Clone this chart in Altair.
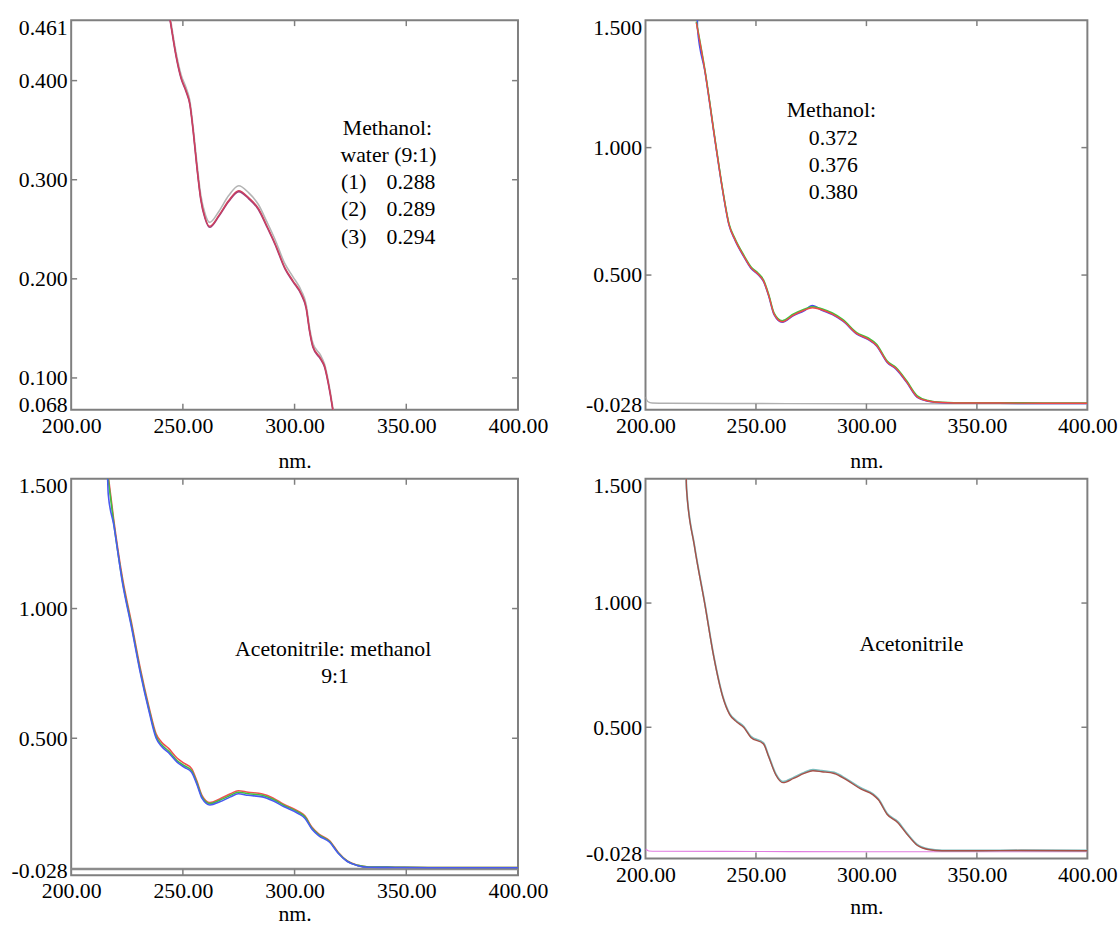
import altair as alt
import pandas as pd

FONT = "Liberation Serif"
FRAME = "#7f7f7f"

# ---------------- shared axis values ----------------
X_TICKS = [200, 250, 300, 350, 400]
X_INNER = [250, 300, 350]

# ---------------- panel 1: methanol : water (9:1) ----------------
P1_NM = [242.0, 244.4, 246.9, 249.2, 251.4, 253.1, 254.6, 256.1, 258.0, 259.9, 262.0, 266.1, 270.5,
         275.0, 279.4, 283.8, 287.5, 291.2, 295.7, 299.3, 303.0, 305.2, 306.7, 308.2, 311.6, 313.4,
         315.1, 317.0, 318.5]
P1_S1 = [0.492, 0.459, 0.425, 0.402, 0.389, 0.376, 0.349, 0.316, 0.280, 0.261, 0.252, 0.263, 0.278,
         0.288, 0.281, 0.270, 0.253, 0.235, 0.210, 0.197, 0.184, 0.170, 0.147, 0.131, 0.119, 0.111,
         0.094, 0.069, 0.045]
P1_S2 = [0.493, 0.460, 0.426, 0.403, 0.390, 0.377, 0.350, 0.317, 0.281, 0.262, 0.253, 0.264, 0.279,
         0.289, 0.282, 0.271, 0.254, 0.236, 0.211, 0.198, 0.185, 0.171, 0.148, 0.132, 0.120, 0.112,
         0.095, 0.070, 0.046]
P1_S3 = [0.496, 0.463, 0.429, 0.406, 0.393, 0.380, 0.353, 0.321, 0.285, 0.266, 0.257, 0.268, 0.284,
         0.294, 0.287, 0.275, 0.258, 0.240, 0.215, 0.202, 0.188, 0.174, 0.151, 0.135, 0.123, 0.114,
         0.097, 0.072, 0.048]
P1_YTICKS = [0.068, 0.1, 0.2, 0.3, 0.4, 0.461]
P1_YINNER = [0.1, 0.2, 0.3, 0.4]
P1_TITLE = ["Methanol:", "water (9:1)"]
P1_RUNS = ["(1)", "(2)", "(3)"]
P1_VALUES = ["0.288", "0.289", "0.294"]

# ---------------- panel 2: methanol ----------------
P2_NM = [223.0, 226.9, 231.7, 234.9, 237.8, 240.5, 244.5, 247.7, 251.0, 253.4, 255.8, 258.2, 261.9,
         267.0, 271.8, 275.5, 279.8, 284.6, 289.4, 295.8, 300.6, 304.6, 309.4, 313.4, 318.2, 323.0,
         327.9, 334.3, 345.0, 360.0, 380.0, 400.0]
P2_RED = [1.490, 1.301, 1.016, 0.834, 0.698, 0.639, 0.574, 0.529, 0.503, 0.477, 0.419, 0.347, 0.317,
          0.343, 0.362, 0.372, 0.364, 0.347, 0.321, 0.269, 0.250, 0.224, 0.159, 0.133, 0.081, 0.022,
          0.006, 0.000, -0.002, -0.002, -0.003, -0.003]
P2_GREEN = [1.494, 1.305, 1.020, 0.838, 0.702, 0.643, 0.578, 0.533, 0.507, 0.481, 0.423, 0.351, 0.321,
            0.347, 0.366, 0.376, 0.368, 0.351, 0.325, 0.273, 0.254, 0.228, 0.163, 0.137, 0.085, 0.026,
            0.008, 0.001, -0.001, -0.001, -0.002, -0.002]
P2_BLUE_NM = [223.4, 223.5, 226.9, 231.7, 234.9, 237.8, 240.5, 244.5, 247.7, 251.0, 253.4, 255.8, 258.2,
              261.9, 267.0, 271.8, 275.5, 279.8, 284.6, 289.4, 295.8, 300.6, 304.6, 309.4, 313.4, 318.2,
              323.0, 327.9, 334.3, 345.0, 360.0, 380.0, 400.0]
P2_BLUE = [1.620, 1.470, 1.299, 1.014, 0.832, 0.696, 0.637, 0.572, 0.527, 0.501, 0.475, 0.417, 0.345,
           0.315, 0.341, 0.360, 0.380, 0.362, 0.345, 0.319, 0.267, 0.248, 0.222, 0.157, 0.131, 0.079,
           0.020, 0.005, -0.001, -0.003, -0.003, -0.004, -0.004]
P2_BASE_NM = [200.0, 201.0, 203.0, 210.0, 250.0, 300.0, 330.0, 400.0]
P2_BASE = [0.022, 0.004, -0.002, -0.003, -0.004, -0.005, -0.005, -0.005]
P2_TEXT = ["Methanol:", "0.372", "0.376", "0.380"]

# ---------------- panel 3: acetonitrile : methanol 9:1 ----------------
P3_NM = [215.5, 216.6, 219.0, 223.0, 226.9, 230.9, 234.9, 238.0, 240.4, 243.6, 247.5, 250.7, 253.9,
         256.2, 258.6, 262.1, 266.5, 271.3, 274.8, 279.2, 285.6, 290.3, 295.1, 301.4, 304.6, 307.8,
         310.9, 315.7, 319.6, 323.6, 328.3, 333.1, 345.0, 360.0, 380.0, 400.0]
P3_RED = [1.590, 1.512, 1.346, 1.116, 0.950, 0.771, 0.618, 0.517, 0.486, 0.461, 0.423, 0.403, 0.383,
          0.337, 0.279, 0.252, 0.266, 0.286, 0.298, 0.292, 0.285, 0.270, 0.246, 0.220, 0.201, 0.157,
          0.131, 0.105, 0.060, 0.027, 0.010, 0.004, 0.003, 0.002, 0.002, 0.002]
P3_GREEN = [1.574, 1.498, 1.333, 1.104, 0.939, 0.761, 0.609, 0.508, 0.476, 0.451, 0.413, 0.394, 0.375,
            0.330, 0.273, 0.248, 0.261, 0.280, 0.292, 0.286, 0.280, 0.265, 0.242, 0.216, 0.197, 0.153,
            0.128, 0.102, 0.058, 0.026, 0.010, 0.004, 0.003, 0.002, 0.002, 0.002]
P3_BLUE = [1.900, 1.440, 1.325, 1.097, 0.932, 0.754, 0.602, 0.501, 0.469, 0.444, 0.407, 0.388, 0.369,
           0.324, 0.268, 0.243, 0.255, 0.274, 0.286, 0.280, 0.274, 0.259, 0.237, 0.211, 0.192, 0.149,
           0.124, 0.099, 0.056, 0.025, 0.009, 0.003, 0.002, 0.001, 0.001, 0.001]
P3_BASE_NM = [200.0, 400.0]
P3_BASE = [-0.004, -0.004]
P3_TEXT = ["Acetonitrile: methanol", "9:1"]

# ---------------- panel 4: acetonitrile ----------------
P4_NM = [218.0, 218.6, 222.1, 226.9, 230.9, 234.9, 238.1, 241.3, 244.5, 247.7, 253.4, 255.8, 259.0,
         262.2, 267.0, 271.8, 275.8, 279.8, 285.4, 291.0, 297.4, 303.0, 305.4, 309.4, 314.2, 318.3,
         323.1, 327.9, 334.3, 350.0, 370.0, 400.0]
P4_MAIN = [1.700, 1.455, 1.231, 0.993, 0.783, 0.624, 0.551, 0.521, 0.499, 0.459, 0.433, 0.380, 0.308,
           0.277, 0.294, 0.314, 0.325, 0.321, 0.314, 0.288, 0.252, 0.228, 0.208, 0.149, 0.116, 0.070,
           0.024, 0.008, 0.003, 0.003, 0.004, 0.003]
P4_TEAL = [1.704, 1.459, 1.235, 0.997, 0.787, 0.628, 0.555, 0.525, 0.503, 0.463, 0.437, 0.384, 0.312,
           0.281, 0.298, 0.318, 0.329, 0.325, 0.318, 0.292, 0.256, 0.232, 0.212, 0.153, 0.120, 0.074,
           0.027, 0.010, 0.004, 0.004, 0.005, 0.004]
P4_BASE_NM = [200.0, 201.5, 205.0, 250.0, 300.0, 340.0, 400.0]
P4_BASE = [0.010, 0.002, 0.001, 0.000, -0.001, -0.001, -0.001]
P4_TEXT = ["Acetonitrile"]

AB_TICKS = [-0.028, 0.5, 1.0, 1.5]
AB_INNER = [0.5, 1.0]
AB_DOMAIN = [-0.028, 1.5]

Y_LABEL_EXPR = "datum.value < 0 ? '-' + format(-datum.value, '.3f') : format(datum.value, '.3f')"
Y_LABEL_SHIFT = {"condition": [{"test": "datum.value < 0.07", "value": 7},
                               {"test": "datum.value == 1.5 || datum.value == 0.461", "value": -3}],
                 "value": 0}


def make_panel(lines, yticks, yinner, ydomain, w, h, texts, title_pad=15):
    xs = alt.Scale(domain=[200, 400], nice=False, zero=False)
    ys = alt.Scale(domain=ydomain, nice=False, zero=False)
    xaxis = alt.Axis(values=X_TICKS, format=".2f", title="nm.", labelPadding=6, titlePadding=title_pad,
                     ticks=False, tickSize=0, domain=False, grid=False, labelFlush=False,
                     labelOverlap=False)
    yaxis = alt.Axis(values=yticks, labelExpr=Y_LABEL_EXPR, title="", labelPadding=4,
                     ticks=False, tickSize=0, domain=False, grid=False, labelFlush=True,
                     labelOverlap=False, labelOffset=Y_LABEL_SHIFT)
    X = lambda f: alt.X(f, scale=xs, axis=xaxis)
    Y = lambda f: alt.Y(f, scale=ys, axis=yaxis)
    layers = []
    for nm, vals, color, sw in lines:
        df = pd.DataFrame({"nm": nm, "A": vals})
        layers.append(
            alt.Chart(df).mark_line(color=color, strokeWidth=sw, clip=True, interpolate="monotone").encode(
                x=X("nm:Q"), y=Y("A:Q")
            )
        )
    ydf = pd.DataFrame({"A": yinner})
    xdf = pd.DataFrame({"nm": X_INNER})
    tick = dict(color=FRAME, strokeWidth=1.5)
    layers.append(alt.Chart(ydf).mark_rule(**tick).encode(
        y=Y("A:Q"), x=alt.value(0), x2=alt.value(6)))
    layers.append(alt.Chart(ydf).mark_rule(**tick).encode(
        y=Y("A:Q"), x=alt.value(w - 6), x2=alt.value(w)))
    layers.append(alt.Chart(xdf).mark_rule(**tick).encode(
        x=X("nm:Q"), y=alt.value(h - 6), y2=alt.value(h)))
    layers.append(alt.Chart(xdf).mark_rule(**tick).encode(
        x=X("nm:Q"), y=alt.value(0), y2=alt.value(6)))
    for txt, px, py, align in texts:
        layers.append(
            alt.Chart(alt.Data(values=[{}])).mark_text(
                text=txt, font=FONT, fontSize=22, align=align, baseline="middle", color="black"
            ).encode(x=alt.value(px), y=alt.value(py))
        )
    return alt.layer(*layers).properties(width=w, height=h)


p1_texts = [(P1_TITLE[0], 320, 109, "center"), (P1_TITLE[1], 321, 136, "center")]
for k, (r, v) in enumerate(zip(P1_RUNS, P1_VALUES)):
    p1_texts.append((r, 273, 164 + 27.5 * k, "left"))
    p1_texts.append((v, 319, 164 + 27.5 * k, "left"))

p1 = make_panel(
    [(P1_NM, P1_S3, "#b4b4b4", 1.6), (P1_NM, P1_S1, "#9c3d7c", 1.6), (P1_NM, P1_S2, "#d0405c", 1.4)],
    P1_YTICKS, P1_YINNER, [0.068, 0.461], 452, 394, p1_texts)

p2_texts = [(P2_TEXT[0], 188, 91, "center")] + [
    (t, 190, 119.3 + 27.5 * k, "center") for k, t in enumerate(P2_TEXT[1:])]
p2 = make_panel(
    [(P2_BASE_NM, P2_BASE, "#b0b0b0", 1.4), (P2_BLUE_NM, P2_BLUE, "#4a4af0", 1.6),
     (P2_NM, P2_GREEN, "#3cc83c", 1.6), (P2_NM, P2_RED, "#f04848", 1.4)],
    AB_TICKS, AB_INNER, AB_DOMAIN, 447, 394, p2_texts)

p3_texts = [(P3_TEXT[0], 265, 172, "center"), (P3_TEXT[1], 267, 200, "center")]
p3 = make_panel(
    [(P3_BASE_NM, P3_BASE, "#8c8c8c", 2.5), (P3_NM, P3_RED, "#f05050", 1.6),
     (P3_NM, P3_GREEN, "#40c040", 1.6), (P3_NM, P3_BLUE, "#4a5af0", 1.6)],
    AB_TICKS, AB_INNER, AB_DOMAIN, 452, 401, p3_texts, title_pad=2)

p4_texts = [(P4_TEXT[0], 269, 167, "center")]
p4 = make_panel(
    [(P4_BASE_NM, P4_BASE, "#e07ce0", 1.2), (P4_NM, P4_TEAL, "#7cbcbc", 1.8),
     (P4_NM, P4_MAIN, "#a65048", 1.4)],
    AB_TICKS, AB_INNER, AB_DOMAIN, 447, 384, p4_texts, title_pad=12)

chart = alt.concat(
    p1, p2, p3, p4, columns=2, spacing={"row": 70, "column": 129}, bounds="flush"
).resolve_scale(x="independent", y="independent").properties(
    padding={"left": 10, "top": 10, "right": 0, "bottom": 0}, background="white"
).configure_view(
    stroke=FRAME, strokeWidth=2, fill="white"
).configure_axis(
    labelFont=FONT, labelFontSize=22, labelColor="black",
    titleFont=FONT, titleFontSize=22, titleFontWeight="normal", titleColor="black"
)

chart.save("out.html", embed_options={"renderer": "svg", "actions": False})
